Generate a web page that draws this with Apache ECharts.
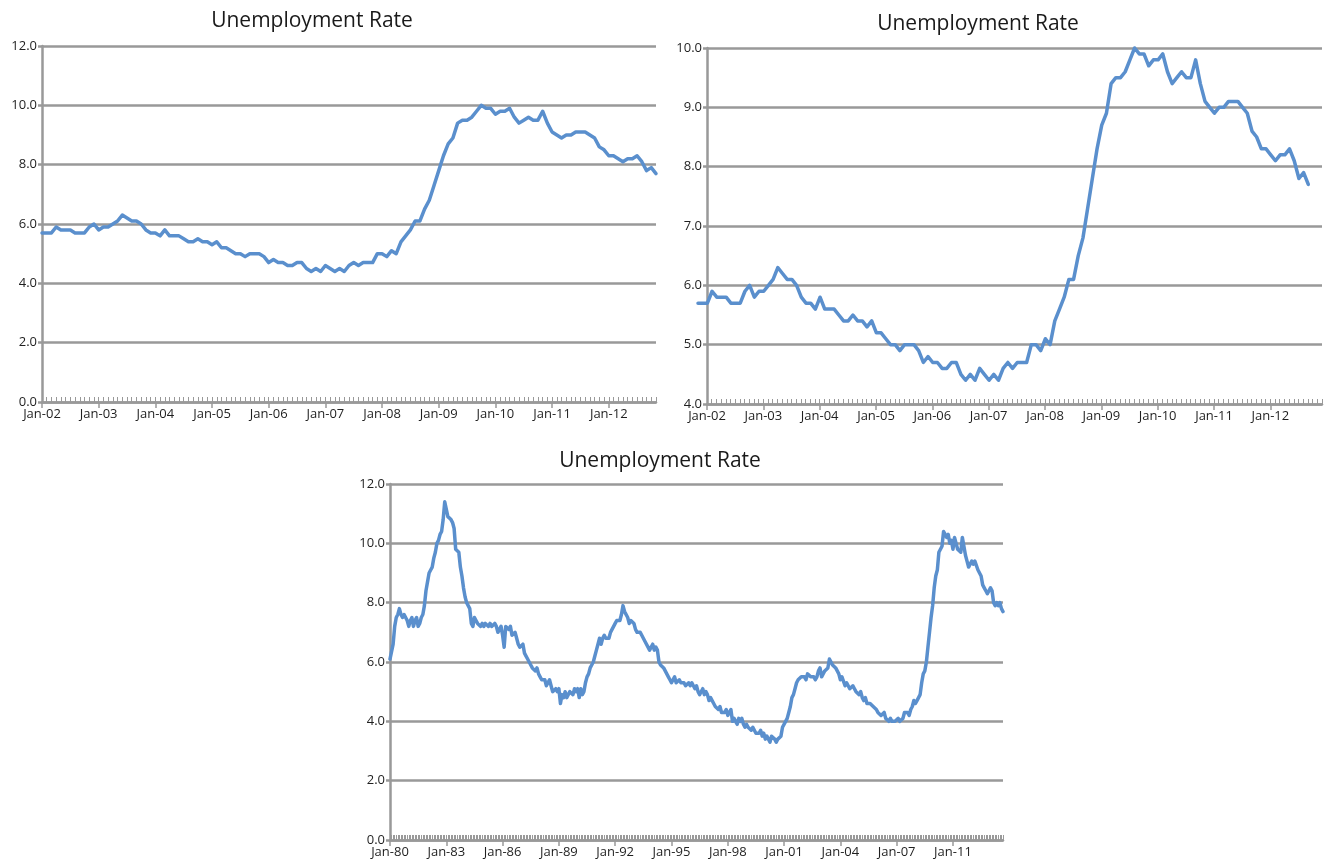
<!DOCTYPE html>
<html>
<head>
<meta charset="utf-8">
<script src="https://cdn.jsdelivr.net/npm/echarts@6/dist/echarts.min.js"></script>
<style>
  html, body { margin: 0; padding: 0; background: #ffffff; }
  #chart { width: 1334px; height: 863px; }
</style>
</head>
<body>
<div id="chart"></div>
<script>
// Monthly unemployment rate, Jan 2002 onwards (percent)
const recentRate = [
  5.7, 5.7, 5.7, 5.9, 5.8, 5.8, 5.8, 5.7, 5.7, 5.7, 5.9, 6.0,
  5.8, 5.9, 5.9, 6.0, 6.1, 6.3, 6.2, 6.1, 6.1, 6.0, 5.8, 5.7,
  5.7, 5.6, 5.8, 5.6, 5.6, 5.6, 5.5, 5.4, 5.4, 5.5, 5.4, 5.4,
  5.3, 5.4, 5.2, 5.2, 5.1, 5.0, 5.0, 4.9, 5.0, 5.0, 5.0, 4.9,
  4.7, 4.8, 4.7, 4.7, 4.6, 4.6, 4.7, 4.7, 4.5, 4.4, 4.5, 4.4,
  4.6, 4.5, 4.4, 4.5, 4.4, 4.6, 4.7, 4.6, 4.7, 4.7, 4.7, 5.0,
  5.0, 4.9, 5.1, 5.0, 5.4, 5.6, 5.8, 6.1, 6.1, 6.5, 6.8, 7.3,
  7.8, 8.3, 8.7, 8.9, 9.4, 9.5, 9.5, 9.6, 9.8, 10.0, 9.9, 9.9,
  9.7, 9.8, 9.8, 9.9, 9.6, 9.4, 9.5, 9.6, 9.5, 9.5, 9.8, 9.4,
  9.1, 9.0, 8.9, 9.0, 9.0, 9.1, 9.1, 9.1, 9.0, 8.9, 8.6, 8.5,
  8.3, 8.3, 8.2, 8.1, 8.2, 8.2, 8.3, 8.1, 7.8, 7.9, 7.7
];

// Monthly unemployment rate, Jan 1980 onwards (percent)
const longRate = [
  6.1, 6.1, 6.6, 7.2, 7.5, 7.6, 7.8, 7.6, 7.5, 7.6, 7.5, 7.4,
  7.2, 7.4, 7.5, 7.2, 7.4, 7.5, 7.2, 7.3, 7.5, 7.6, 7.9, 8.4,
  8.7, 9.0, 9.1, 9.2, 9.5, 9.7, 10.0, 10.1, 10.3, 10.4, 10.8, 11.4,
  11.4, 10.9, 10.9, 10.8, 10.7, 10.5, 9.8, 9.8, 9.7, 9.2, 8.9, 8.5,
  8.2, 8.0, 7.9, 7.8, 7.3, 7.2, 7.5, 7.4, 7.3, 7.3, 7.2, 7.3,
  7.2, 7.3, 7.3, 7.2, 7.3, 7.2, 7.2, 7.3, 7.2, 7.0, 7.1, 7.2,
  6.9, 6.5, 7.2, 7.2, 7.1, 7.2, 6.9, 6.9, 7.0, 6.8, 6.6, 6.5,
  6.5, 6.6, 6.3, 6.2, 6.1, 6.0, 5.9, 5.8, 5.8, 5.7, 5.8, 5.6,
  5.5, 5.4, 5.4, 5.4, 5.2, 5.3, 5.4, 5.2, 5.0, 5.0, 5.1, 5.0,
  5.1, 4.6, 4.9, 4.8, 5.0, 4.8, 4.9, 5.0, 5.0, 4.9, 5.1, 5.0,
  5.1, 4.8, 5.1, 4.9, 5.0, 5.3, 5.5, 5.6, 5.8, 5.9, 6.0, 6.2,
  6.4, 6.6, 6.8, 6.6, 6.8, 6.9, 6.8, 6.8, 6.8, 7.0, 7.0, 7.2,
  7.3, 7.4, 7.4, 7.4, 7.6, 7.9, 7.7, 7.7, 7.5, 7.3, 7.4, 7.4,
  7.3, 7.1, 7.0, 7.0, 7.0, 6.9, 6.8, 6.7, 6.7, 6.5, 6.4, 6.5,
  6.6, 6.4, 6.5, 6.4, 6.0, 5.9, 5.9, 5.8, 5.8, 5.6, 5.5, 5.4,
  5.3, 5.4, 5.5, 5.3, 5.3, 5.4, 5.3, 5.3, 5.3, 5.2, 5.2, 5.3,
  5.2, 5.3, 5.3, 5.1, 5.2, 5.0, 4.9, 4.9, 5.1, 4.9, 5.0, 4.9,
  4.7, 4.8, 4.7, 4.6, 4.5, 4.5, 4.4, 4.5, 4.3, 4.3, 4.3, 4.4,
  4.2, 4.2, 4.4, 4.0, 4.1, 4.0, 3.9, 4.1, 4.0, 4.1, 3.9, 3.8,
  3.9, 3.8, 3.8, 3.7, 3.8, 3.7, 3.6, 3.6, 3.6, 3.7, 3.5, 3.6,
  3.4, 3.5, 3.5, 3.3, 3.5, 3.5, 3.4, 3.3, 3.4, 3.4, 3.5, 3.8,
  3.8, 4.0, 4.1, 4.3, 4.5, 4.8, 4.9, 5.1, 5.3, 5.4, 5.4, 5.5,
  5.5, 5.5, 5.4, 5.6, 5.6, 5.5, 5.5, 5.5, 5.4, 5.5, 5.7, 5.8,
  5.5, 5.6, 5.7, 5.7, 5.8, 6.1, 6.0, 5.9, 5.9, 5.8, 5.7, 5.6,
  5.4, 5.5, 5.5, 5.2, 5.3, 5.2, 5.1, 5.1, 5.2, 5.1, 5.0, 5.0,
  4.9, 5.0, 4.8, 4.7, 4.8, 4.6, 4.6, 4.6, 4.6, 4.5, 4.5, 4.4,
  4.3, 4.3, 4.2, 4.2, 4.3, 4.1, 4.1, 4.0, 4.1, 4.0, 4.0, 4.0,
  4.0, 4.1, 4.0, 4.0, 4.1, 4.3, 4.3, 4.3, 4.2, 4.4, 4.5, 4.7,
  4.6, 4.7, 4.8, 4.9, 5.3, 5.6, 5.7, 6.0, 6.5, 7.0, 7.5, 7.9,
  8.5, 8.9, 9.1, 9.7, 9.8, 9.9, 10.4, 10.3, 10.2, 10.3, 10.0, 10.1,
  9.8, 10.2, 10.0, 9.8, 9.8, 9.7, 10.2, 9.9, 9.6, 9.4, 9.2, 9.3,
  9.4, 9.3, 9.4, 9.4, 9.1, 9.0, 8.9, 8.6, 8.5, 8.4, 8.3, 8.4,
  8.5, 8.4, 8.0, 7.9, 8.0, 7.9, 8.0, 7.8, 7.7
];

// Tick labels, one per labelled category
const recentTicks = ['Jan-02', 'Jan-03', 'Jan-04', 'Jan-05', 'Jan-06', 'Jan-07',
                     'Jan-08', 'Jan-09', 'Jan-10', 'Jan-11', 'Jan-12'];
const longTicks = ['Jan-80', 'Jan-83', 'Jan-86', 'Jan-89', 'Jan-92', 'Jan-95',
                   'Jan-98', 'Jan-01', 'Jan-04', 'Jan-07', 'Jan-11'];
const chartTitle = 'Unemployment Rate';

const MONTHS = ['Jan','Feb','Mar','Apr','May','Jun','Jul','Aug','Sep','Oct','Nov','Dec'];
function monthCategories(startYear, count) {
  const out = [];
  for (let i = 0; i < count; i++) {
    const y = (startYear + Math.floor(i / 12)) % 100;
    out.push(MONTHS[i % 12] + '-' + String(y).padStart(2, '0'));
  }
  return out;
}

const FONT = '"Open Sans", Lato, "Liberation Sans", sans-serif';
const GRID_GRAY = '#999999';
const LINE_BLUE = '#5a8fcd';
const TEXT = '#1f1f1f';
const LABEL_SIZE = 13;

// Labelled category axis with outward year ticks
function majorAxis(gridIndex, cats, step, ticks) {
  return {
    type: 'category', gridIndex, data: cats, boundaryGap: false, position: 'bottom',
    axisLine: { show: true, lineStyle: { color: GRID_GRAY, width: 2.5 } },
    axisTick: { show: true, interval: step - 1, length: 6, lineStyle: { color: GRID_GRAY, width: 1.5 } },
    axisLabel: {
      show: true, interval: step - 1, margin: 6, color: TEXT, fontFamily: FONT, fontSize: LABEL_SIZE,
      formatter: (v, i) => ticks[Math.round(i / step)] || ''
    },
    splitLine: { show: false }
  };
}
// Unlabelled companion axis carrying the inward monthly ticks
function minorAxis(gridIndex, cats) {
  return {
    type: 'category', gridIndex, data: cats, boundaryGap: false, position: 'bottom',
    axisLine: { show: false },
    axisTick: { show: true, interval: 0, inside: true, length: 5, lineStyle: { color: GRID_GRAY, width: 1 } },
    axisLabel: { show: false },
    splitLine: { show: false }
  };
}
function hiddenX(gridIndex, cats) {
  return { type: 'category', gridIndex, data: cats, boundaryGap: false, show: false };
}
function valueAxis(gridIndex, min, max, interval) {
  return {
    type: 'value', gridIndex, min, max, interval,
    axisLine: { show: true, lineStyle: { color: GRID_GRAY, width: 2.5 } },
    axisTick: { show: true, length: 4, lineStyle: { color: GRID_GRAY, width: 2.5 } },
    axisLabel: { color: TEXT, fontFamily: FONT, fontSize: LABEL_SIZE, margin: 5, formatter: v => v.toFixed(1) },
    splitLine: { show: true, lineStyle: { color: GRID_GRAY, width: 2.5 } }
  };
}
function hiddenY(gridIndex, min, max) {
  return { type: 'value', gridIndex, min, max, show: false, splitLine: { show: false } };
}
function rateLine(xAxisIndex, yAxisIndex, data) {
  return {
    type: 'line', xAxisIndex, yAxisIndex, data, showSymbol: false, symbol: 'none',
    lineStyle: { color: LINE_BLUE, width: 3.5, join: 'round', cap: 'round' },
    clip: false, silent: true, animation: false
  };
}
function titleText(x, y) {
  return {
    type: 'text', x, y, silent: true,
    style: { text: chartTitle, align: 'center', verticalAlign: 'middle',
             font: '21px ' + FONT, fill: '#1a1a1a' }
  };
}

const leftCats = monthCategories(2002, recentRate.length);
const rightCats = monthCategories(2002, recentRate.length + 1);
const longCats = monthCategories(1980, longRate.length);

const chart = echarts.init(document.getElementById('chart'), null, { renderer: 'canvas' });
chart.setOption({
  animation: false,
  backgroundColor: '#ffffff',
  grid: [
    { left: 42, top: 46, width: 614, height: 356 },   // upper left
    { left: 707, top: 48, width: 615, height: 356 },  // upper right, axes
    { left: 698, top: 48, width: 615, height: 356 },  // upper right, line
    { left: 390, top: 484, width: 613, height: 356 }  // lower
  ],
  xAxis: [
    majorAxis(0, leftCats, 12, recentTicks),
    minorAxis(0, leftCats),
    majorAxis(1, rightCats, 12, recentTicks),
    minorAxis(1, rightCats),
    hiddenX(2, rightCats),
    majorAxis(3, longCats, 36, longTicks),
    minorAxis(3, longCats)
  ],
  yAxis: [
    valueAxis(0, 0, 12, 2),
    valueAxis(1, 4, 10, 1),
    hiddenY(2, 4, 10),
    valueAxis(3, 0, 12, 2)
  ],
  series: [
    rateLine(0, 0, recentRate),
    rateLine(4, 2, recentRate),
    rateLine(5, 3, longRate)
  ],
  graphic: [
    titleText(312, 21),
    titleText(978, 24),
    titleText(660, 461)
  ]
});
</script>
</body>
</html>
